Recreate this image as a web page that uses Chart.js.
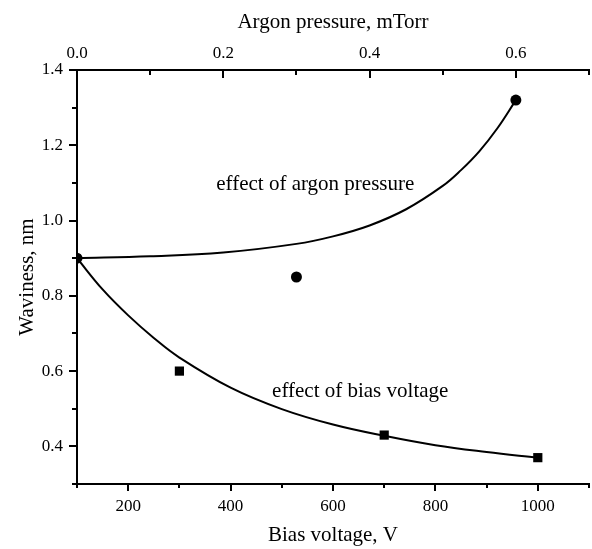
<!DOCTYPE html>
<html>
<head>
<meta charset="utf-8">
<script src="https://cdn.jsdelivr.net/npm/chart.js@4.4.1/dist/chart.umd.min.js"></script>
<style>
  body { margin: 0; background: #fff; }
  canvas { display: block; }
</style>
</head>
<body>
<canvas id="myChart" width="592" height="549"></canvas>
<script>
// measured points
const argonPressure = [0.0, 0.3, 0.6];
const argonWaviness = [0.90, 0.85, 1.32];
const biasVoltage = [300, 700, 1000];
const biasWaviness = [0.60, 0.43, 0.37];

// fitted curves
const argonFitPressure = [0.0, 0.1, 0.2, 0.3, 0.35, 0.4, 0.45, 0.5, 0.525, 0.55, 0.575, 0.6];
const argonFitWaviness = [0.90, 0.905, 0.915, 0.938, 0.958, 0.987, 1.030, 1.092, 1.134, 1.184, 1.246, 1.32];
const biasFitVoltage = [100, 150, 200, 250, 300, 400, 500, 600, 700, 800, 900, 1000];
const biasFitWaviness = [0.90, 0.817, 0.748, 0.688, 0.636, 0.556, 0.499, 0.458, 0.428, 0.403, 0.385, 0.37];

const labels = [
  { text: "effect of argon pressure", v: 372, w: 1.081 },
  { text: "effect of bias voltage", v: 481, w: 0.530 }
];

function pts(xs, ys) {
  return xs.map((x, i) => ({ x: x, y: ys[i] }));
}

const serif = "'Liberation Serif', 'Times New Roman', serif";

// tick marks: major longer than minor, top axis points inward
const tickMarks = {
  id: "tickMarks",
  afterDraw(chart) {
    const ctx = chart.ctx;
    const a = chart.chartArea;
    ctx.save();
    ctx.strokeStyle = "#000";
    ctx.lineWidth = 2;
    ctx.beginPath();
    const sx = chart.scales.x;
    sx.ticks.forEach(t => {
      const p = Math.round(sx.getPixelForValue(t.value));
      const len = t.label !== "" ? 7 : 4;
      ctx.moveTo(p, a.bottom); ctx.lineTo(p, a.bottom + len);
    });
    const st = chart.scales.x2;
    st.ticks.forEach(t => {
      const p = Math.round(st.getPixelForValue(t.value));
      const len = t.label !== "" ? 8 : 5;
      ctx.moveTo(p, a.top); ctx.lineTo(p, a.top + len);
    });
    const sy = chart.scales.y;
    sy.ticks.forEach(t => {
      const p = Math.round(sy.getPixelForValue(t.value));
      const len = t.label !== "" ? 8 : 5;
      ctx.moveTo(a.left, p); ctx.lineTo(a.left - len, p);
    });
    ctx.stroke();

    ctx.fillStyle = "#000";
    ctx.font = "21px " + serif;
    ctx.textBaseline = "alphabetic";
    ctx.textAlign = "left";
    labels.forEach(l => {
      ctx.fillText(l.text, sx.getPixelForValue(l.v), sy.getPixelForValue(l.w));
    });
    ctx.restore();
  }
};

function noSidePad(s) {
  s.paddingLeft = 0;
  s.paddingRight = 0;
}

const ctx = document.getElementById("myChart");
new Chart(ctx, {
  type: "scatter",
  data: {
    datasets: [
      {
        label: "argon fit",
        data: pts(argonFitPressure, argonFitWaviness),
        xAxisID: "x2",
        showLine: true,
        borderColor: "#000",
        borderWidth: 2,
        pointRadius: 0,
        tension: 0.4
      },
      {
        label: "bias fit",
        data: pts(biasFitVoltage, biasFitWaviness),
        xAxisID: "x",
        showLine: true,
        borderColor: "#000",
        borderWidth: 2,
        pointRadius: 0,
        tension: 0.4
      },
      {
        label: "argon pressure",
        data: pts(argonPressure, argonWaviness),
        xAxisID: "x2",
        pointStyle: "circle",
        pointRadius: 5.5,
        backgroundColor: "#000",
        borderColor: "#000",
        borderWidth: 0
      },
      {
        label: "bias voltage",
        data: pts(biasVoltage, biasWaviness),
        xAxisID: "x",
        pointStyle: "rect",
        pointRadius: 6.5,
        backgroundColor: "#000",
        borderColor: "#000",
        borderWidth: 0
      }
    ]
  },
  options: {
    responsive: false,
    animation: false,
    layout: { autoPadding: false, padding: { left: 0, right: 3, top: 0, bottom: 0 } },
    plugins: {
      legend: { display: false },
      tooltip: { enabled: false }
    },
    scales: {
      x: {
        type: "linear",
        position: "bottom",
        min: 100,
        max: 1100,
        afterFit(s) { s.height = 65; noSidePad(s); },
        border: { display: true, color: "#000", width: 2 },
        grid: { display: true, drawOnChartArea: false, drawTicks: false },
        ticks: {
          stepSize: 100,
          padding: 12,
          color: "#000",
          font: { family: serif, size: 17 },
          maxRotation: 0,
          autoSkip: false,
          callback: v => (v % 200 === 0 ? String(v) : "")
        },
        title: {
          display: true,
          text: "Bias voltage, V",
          color: "#000",
          font: { family: serif, size: 21 },
          padding: { top: 0, bottom: 1 }
        }
      },
      x2: {
        type: "linear",
        position: "top",
        min: 0,
        max: 0.7,
        afterFit(s) { s.height = 70; noSidePad(s); },
        border: { display: true, color: "#000", width: 2 },
        grid: { display: true, drawOnChartArea: false, drawTicks: false },
        ticks: {
          stepSize: 0.1,
          padding: 6,
          color: "#000",
          font: { family: serif, size: 17 },
          maxRotation: 0,
          autoSkip: false,
          callback: v => (Math.round(v * 10) % 2 === 0 ? v.toFixed(1) : "")
        },
        title: {
          display: true,
          text: "Argon pressure, mTorr",
          color: "#000",
          font: { family: serif, size: 21 },
          padding: { top: 10, bottom: 0 }
        }
      },
      y: {
        type: "linear",
        position: "left",
        min: 0.3,
        max: 1.4,
        afterFit(s) { s.width = 77; },
        border: { display: true, color: "#000", width: 2 },
        grid: { display: true, drawOnChartArea: false, drawTicks: false },
        ticks: {
          stepSize: 0.1,
          padding: 14,
          color: "#000",
          font: { family: serif, size: 17 },
          autoSkip: false,
          callback: v => (Math.round(v * 10) % 2 === 0 ? v.toFixed(1) : "")
        },
        title: {
          display: true,
          text: "Waviness, nm",
          color: "#000",
          font: { family: serif, size: 21 },
          padding: { top: 15, bottom: 0 }
        }
      }
    }
  },
  plugins: [tickMarks]
});
</script>
</body>
</html>
